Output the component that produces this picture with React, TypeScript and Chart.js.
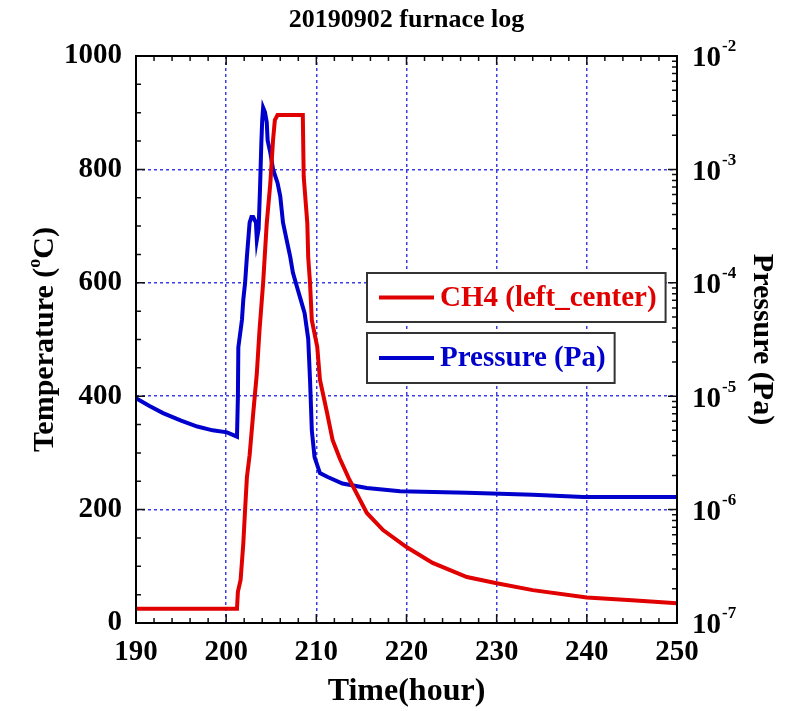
import { useEffect, useRef } from 'react';
import { Chart, registerables } from 'chart.js';

Chart.register(...registerables);

const CHART_TITLE = '20190902 furnace log';
const X_TITLE = 'Time(hour)';
const Y_TITLE_PARTS = ['Temperature (', 'o', 'C)'];
const Y1_TITLE = 'Pressure (Pa)';
const TEMP_LABEL = 'CH4 (left_center)';
const PRESS_LABEL = 'Pressure (Pa)';
const PRESS_DECADES = [-7, -6, -5, -4, -3, -2];

const tempHours = [
  190, 201.2, 201.3, 201.6, 201.9, 202.1, 202.3, 202.6, 203.0, 203.4, 203.7, 204.1,
  204.5, 204.9, 205.2, 205.4, 205.7, 208.5, 208.6, 209.0, 209.1, 209.3, 209.5, 210.1,
  210.4, 211.2, 211.8, 212.6, 213.6, 215.6, 217.4, 220.0, 222.9, 226.7, 230.0, 234.0,
  240.0, 245.0, 250.0,
];
const tempValues = [
  25, 25, 55, 76, 140, 200, 257, 296, 370, 440, 517, 600,
  705, 776, 852, 887, 896, 896, 787, 705, 645, 600, 534, 487,
  429, 370, 323, 290, 255, 194, 164, 134, 106, 81, 70, 58,
  45, 40, 35,
];

const pressHours = [
  190, 191.5, 193, 195, 196.8, 198.5, 200.1, 201.2, 201.3, 201.35, 201.75, 201.9,
  202.1, 202.3, 202.6, 202.8, 203.0, 203.3, 203.4, 203.6, 203.75, 203.9, 204.0, 204.1,
  204.3, 204.5, 204.6, 204.9, 205.2, 205.7, 206.0, 206.3, 206.7, 207.1, 207.4, 207.8,
  208.2, 208.7, 209.1, 209.3, 209.5, 209.8, 210.4, 211.2, 212.9, 215.6, 219.3, 226.7,
  234.0, 239.6, 250,
];
const pressValues = [
  9.6e-6, 8.2e-6, 7.1e-6, 6.1e-6, 5.4e-6, 5.0e-6, 4.8e-6, 4.4e-6, 9.8e-6, 2.7e-5, 4.7e-5, 7.1e-5,
  1.0e-4, 1.7e-4, 3.4e-4, 3.8e-4, 3.8e-4, 3.4e-4, 2.4e-4, 3.0e-4, 6.6e-4, 1.7e-3, 2.75e-3, 3.5e-3,
  3.2e-3, 2.6e-3, 1.8e-3, 1.4e-3, 1.0e-3, 7.6e-4, 5.8e-4, 3.4e-4, 2.4e-4, 1.7e-4, 1.23e-4, 9.5e-5,
  7.4e-5, 5.4e-5, 3.2e-5, 1.4e-5, 5.0e-6, 2.9e-6, 2.1e-6, 1.95e-6, 1.7e-6, 1.55e-6, 1.45e-6, 1.41e-6,
  1.35e-6, 1.29e-6, 1.29e-6,
];

const RED = '#e00000';
const BLUE = '#0000cc';
const GRID = 'rgba(40,40,225,0.9)';
const FONT = "'Liberation Serif', 'Times New Roman', serif";

const decorPlugin = {
  id: 'decor',
  afterDraw(chart: any) {
    const { ctx, chartArea: a, scales } = chart;
    const x = scales.x, y = scales.y, y1 = scales.y1;
    ctx.save();
    // inward ticks
    ctx.strokeStyle = '#111';
    ctx.lineWidth = 1.5;
    ctx.beginPath();
    for (let v = 190; v <= 250; v += 2) {
      const px = x.getPixelForValue(v);
      const len = v % 10 === 0 ? 9 : 5;
      ctx.moveTo(px, a.bottom); ctx.lineTo(px, a.bottom - len);
      ctx.moveTo(px, a.top); ctx.lineTo(px, a.top + len);
    }
    for (let v = 0; v <= 1000; v += 50) {
      const py = y.getPixelForValue(v);
      const len = v % 200 === 0 ? 9 : 5;
      ctx.moveTo(a.left, py); ctx.lineTo(a.left + len, py);
    }
    for (let k = -7; k < -2; k++) {
      for (let m = 1; m <= 9; m++) {
        const py = y1.getPixelForValue(m * Math.pow(10, k));
        const len = m === 1 ? 9 : 5;
        ctx.moveTo(a.right, py); ctx.lineTo(a.right - len, py);
      }
    }
    ctx.stroke();
    // frame
    ctx.lineWidth = 2;
    ctx.strokeStyle = '#000';
    ctx.strokeRect(a.left, a.top, a.right - a.left, a.bottom - a.top);

    // right axis labels with superscripts
    ctx.fillStyle = '#000';
    ctx.textBaseline = 'middle';
    ctx.textAlign = 'left';
    for (const k of PRESS_DECADES) {
      const py = y1.getPixelForValue(Math.pow(10, k));
      ctx.font = `bold 29px ${FONT}`;
      const base = '10';
      const w = ctx.measureText(base).width;
      const lx = a.right + 15;
      ctx.fillText(base, lx, py + 3);
      ctx.font = `bold 17px ${FONT}`;
      ctx.fillText(String(k), lx + w + 1, py - 9);
    }

    // left axis title with superscript o
    ctx.save();
    ctx.translate(45, (a.top + a.bottom) / 2);
    ctx.rotate(-Math.PI / 2);
    ctx.font = `bold 30px ${FONT}`;
    const w1 = ctx.measureText(Y_TITLE_PARTS[0]).width;
    const w3 = ctx.measureText(Y_TITLE_PARTS[2]).width;
    ctx.font = `bold 18px ${FONT}`;
    const w2 = ctx.measureText(Y_TITLE_PARTS[1]).width;
    let sx = -(w1 + w2 + w3) / 2;
    ctx.font = `bold 30px ${FONT}`;
    ctx.fillText(Y_TITLE_PARTS[0], sx, 0);
    sx += w1;
    ctx.font = `bold 18px ${FONT}`;
    ctx.fillText(Y_TITLE_PARTS[1], sx, -10);
    sx += w2;
    ctx.font = `bold 30px ${FONT}`;
    ctx.fillText(Y_TITLE_PARTS[2], sx, 0);
    ctx.restore();

    // legend boxes
    const items = [
      { label: TEMP_LABEL, color: RED, top: a.top + 217, h: 49 },
      { label: PRESS_LABEL, color: BLUE, top: a.top + 277, h: 50 },
    ];
    const bx = a.left + 231;
    ctx.font = `bold 29px ${FONT}`;
    for (const it of items) {
      const tw = ctx.measureText(it.label).width;
      const bw = (440 - 367) + tw + 9;
      ctx.fillStyle = '#fff';
      ctx.fillRect(bx, it.top, bw, it.h);
      ctx.strokeStyle = '#333';
      ctx.lineWidth = 2;
      ctx.strokeRect(bx, it.top, bw, it.h);
      const cy = it.top + it.h / 2;
      ctx.strokeStyle = it.color;
      ctx.lineWidth = 4;
      ctx.beginPath();
      ctx.moveTo(bx + 12, cy);
      ctx.lineTo(bx + 67, cy);
      ctx.stroke();
      ctx.fillStyle = it.color;
      ctx.textBaseline = 'middle';
      ctx.fillText(it.label, bx + 73, cy + 1);
    }
    ctx.restore();
  },
};

export default function App() {
  const ref = useRef<HTMLCanvasElement | null>(null);
  useEffect(() => {
    if (!ref.current) return;
    const tempData = tempHours.map((h, i) => ({ x: h, y: tempValues[i] }));
    const pressData = pressHours.map((h, i) => ({ x: h, y: pressValues[i] }));
    const chart = new Chart(ref.current, {
      type: 'line',
      data: {
        datasets: [
          {
            label: TEMP_LABEL,
            data: tempData,
            borderColor: RED,
            backgroundColor: RED,
            borderWidth: 4,
            pointRadius: 0,
            tension: 0,
            yAxisID: 'y',
          },
          {
            label: PRESS_LABEL,
            data: pressData,
            borderColor: BLUE,
            backgroundColor: BLUE,
            borderWidth: 4,
            pointRadius: 0,
            tension: 0,
            yAxisID: 'y1',
          },
        ],
      },
      options: {
        responsive: false,
        animation: false,
        events: [],
        layout: { padding: 0 },
        plugins: {
          legend: { display: false },
          tooltip: { enabled: false },
          title: {
            display: true,
            text: CHART_TITLE,
            fullSize: false,
            color: '#000',
            font: { family: FONT, size: 26, weight: 'bold', lineHeight: 1.2 },
            padding: { top: 5, bottom: 19.8 },
          },
        },
        scales: {
          x: {
            type: 'linear',
            min: 190,
            max: 250,
            afterFit: (s: any) => { s.height = 88; },
            ticks: {
              stepSize: 10,
              color: '#000',
              font: { family: FONT, size: 29, weight: 'bold' },
              padding: 12,
              maxRotation: 0,
              callback: (v: any) => String(v),
            },
            grid: { color: GRID, lineWidth: 1.5, drawTicks: false },
            border: { display: false, dash: [3, 3] },
            title: {
              display: true,
              text: X_TITLE,
              color: '#000',
              font: { family: FONT, size: 32, weight: 'bold', lineHeight: 1.2 },
              padding: { top: 0, bottom: 0 },
            },
          },
          y: {
            type: 'linear',
            position: 'left',
            min: 0,
            max: 1000,
            afterFit: (s: any) => { s.width = 136; },
            ticks: {
              stepSize: 200,
              color: '#000',
              font: { family: FONT, size: 29, weight: 'bold' },
              padding: 14,
              callback: (v: any) => String(v),
            },
            grid: { color: GRID, lineWidth: 1.5, drawTicks: false },
            border: { display: false, dash: [3, 3] },
          },
          y1: {
            type: 'logarithmic',
            position: 'right',
            min: 1e-7,
            max: 1e-2,
            afterFit: (s: any) => { s.width = 112; },
            ticks: { display: false },
            grid: { display: false, drawTicks: false },
            border: { display: false },
            title: {
              display: true,
              text: Y1_TITLE,
              color: '#000',
              font: { family: FONT, size: 30, weight: 'bold', lineHeight: 1.2 },
              padding: { top: 9, bottom: 0 },
            },
          },
        },
      },
      plugins: [decorPlugin],
    });
    return () => chart.destroy();
  }, []);
  return (
    <div style={{ position: 'absolute', left: 0, top: 0, width: 789, height: 711, background: '#fff' }}>
      <canvas ref={ref} width={789} height={711} style={{ display: 'block' }} />
    </div>
  );
}
